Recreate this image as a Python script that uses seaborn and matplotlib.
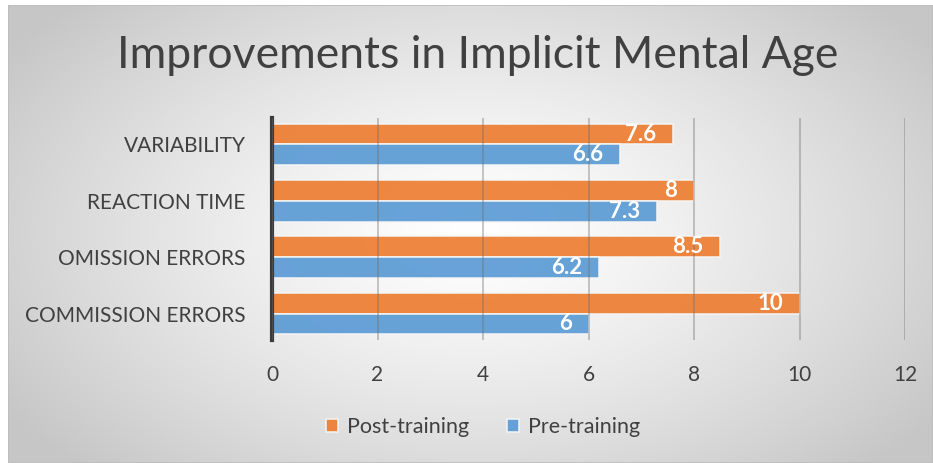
import numpy as np
import pandas as pd
import matplotlib
matplotlib.use("Agg")
import matplotlib.pyplot as plt
import seaborn as sns

categories = ["VARIABILITY", "REACTION TIME", "OMISSION ERRORS", "COMMISSION ERRORS"]
post_training = [7.6, 8, 8.5, 10]
pre_training = [6.6, 7.3, 6.2, 6]
series_names = ["Post-training", "Pre-training"]
x_ticks = [0, 2, 4, 6, 8, 10, 12]
title = "Improvements in Implicit Mental Age"

df = pd.DataFrame({
    "category": categories * 2,
    "value": post_training + pre_training,
    "series": [series_names[0]] * len(categories) + [series_names[1]] * len(categories),
})

sns.set_theme(style="white")
plt.rcParams["font.family"] = ["Lato", "DejaVu Sans"]

W, H = 933, 463
fig = plt.figure(figsize=(W / 100, H / 100), dpi=100)
fig.patch.set_facecolor("white")

# radial gradient background
bg = fig.add_axes([8 / W, 0, 1 - 8 / W, 1 - 5 / H])
yy, xx = np.mgrid[0:H, 0:W]
cx, cy = 470, 230
r = np.sqrt(((xx - cx) / 560) ** 2 + ((yy - cy) / 330) ** 2)
r = np.clip(r, 0, 1)
shade = 1.0 - 0.22 * r ** 1.3
img = np.dstack([shade, shade, shade])
bg.imshow(img, aspect="auto", extent=[0, 1, 0, 1], origin="upper")
bg.set_axis_off()
bg.add_patch(plt.Rectangle((0, 0), 1, 1, transform=bg.transAxes, fill=False,
                           edgecolor="#bdbdbd", linewidth=1.2))

ax = fig.add_axes([272 / W, 1 - 340 / H, (905 - 272) / W, (340 - 118) / H])
ax.set_facecolor("none")
palette = {"Post-training": "#ED7D31", "Pre-training": "#5B9BD5"}
sns.barplot(data=df, x="value", y="category", hue="series", order=categories,
            hue_order=series_names, palette=palette, orient="h", width=0.74,
            saturation=1, ax=ax, legend=True, edgecolor="#f5f5f5", linewidth=1.2,
            alpha=0.92, zorder=2)

for cont in ax.containers:
    labels = [f"{v:g}" for v in cont.datavalues]
    ax.bar_label(cont, labels=labels, label_type="edge", padding=-12,
                 color="white", fontsize=16, fontweight="bold", zorder=5)
for t in ax.texts:
    t.set_horizontalalignment("right")

ax.set_xlim(0, 12)
ax.set_ylim(3.47, -0.47)
ax.set_xticks(x_ticks)
ax.set_xticklabels([str(v) for v in x_ticks])
ax.grid(axis="x", color="#6f6f6f", linewidth=1.2, alpha=0.45, zorder=3)
ax.grid(axis="y", visible=False)
ax.set_axisbelow(False)
for s in ["top", "right", "bottom"]:
    ax.spines[s].set_visible(False)
ax.spines["left"].set_color("#3a3a3a")
ax.spines["left"].set_linewidth(3)
ax.tick_params(axis="x", length=0, pad=18, labelsize=15, labelcolor="#404040")
ax.tick_params(axis="y", length=0, pad=19, labelsize=15, labelcolor="#404040")
ax.set_xlabel("")
ax.set_ylabel("")

leg = ax.legend_
handles = leg.legend_handles
leg.remove()
fig.legend(handles, series_names, loc="center", bbox_to_anchor=(483 / W, 1 - 427 / H),
           ncol=2, frameon=False, fontsize=15.5, handlelength=0.55, handleheight=0.55,
           handletextpad=0.4, columnspacing=1.8, labelcolor="#404040")

fig.text(478 / W, 1 - 56 / H, title, ha="center", va="center", fontsize=32,
         color="#404040")

fig.savefig("out.png", dpi=100)
